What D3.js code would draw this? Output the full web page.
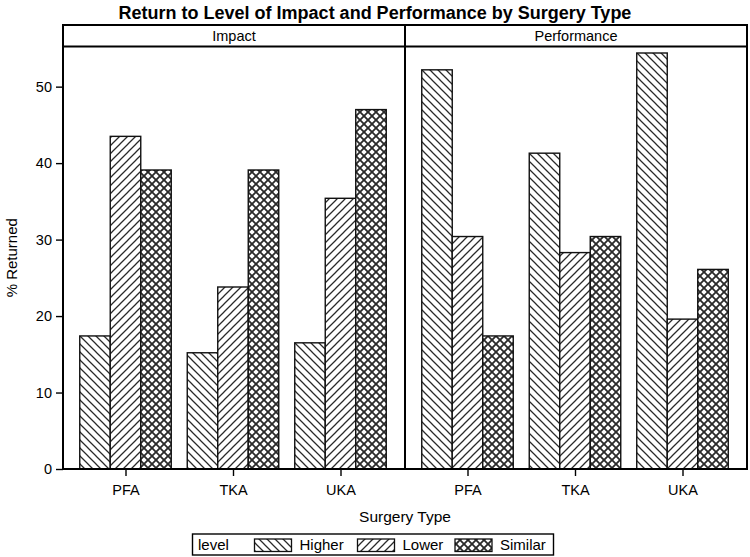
<!DOCTYPE html>
<html><head><meta charset="utf-8">
<script src="https://cdn.jsdelivr.net/npm/d3@7"></script>
<style>
html,body{margin:0;padding:0;background:#fff;}
svg text{font-family:"Liberation Sans",Arial,sans-serif;fill:#000;}
</style></head>
<body><svg id="chart" width="750" height="557"></svg>
<script>
const panels = ["Impact", "Performance"];
const categories = ["PFA", "TKA", "UKA"];
const levels = ["Higher", "Lower", "Similar"];
const impactHigher = [17.4, 15.2, 16.5];
const impactLower = [43.5, 23.8, 35.4];
const impactSimilar = [39.1, 39.1, 47.0];
const perfHigher = [52.2, 41.3, 54.4];
const perfLower = [30.4, 28.3, 19.6];
const perfSimilar = [17.4, 30.4, 26.1];
const yTicks = [0, 10, 20, 30, 40, 50];
const title = "Return to Level of Impact and Performance by Surgery Type";

const series = {
  Impact: {Higher: impactHigher, Lower: impactLower, Similar: impactSimilar},
  Performance: {Higher: perfHigher, Lower: perfLower, Similar: perfSimilar}
};

const svg = d3.select("#chart");
const L = 63, R = 747, headTop = 25, plotTop = 46.5, plotBottom = 469;
const panelW = (R - L) / 2;
const FS = 14.5;

// patterns
const defs = svg.append("defs");
const ink = "#2a2a2a";
function diag(id, dir, sw) {
  const p = defs.append("pattern").attr("id", id).attr("patternUnits", "userSpaceOnUse")
    .attr("width", 8).attr("height", 8);
  p.append("rect").attr("width", 8).attr("height", 8).attr("fill", "#fff");
  const d1 = "M0,0L8,8M-2,6L2,10M6,-2L10,2";
  const d2 = "M0,8L8,0M-2,2L2,-2M6,10L10,6";
  if (dir === "back" || dir === "cross") p.append("path").attr("d", d1).attr("stroke", ink).attr("stroke-width", sw).attr("fill", "none");
  if (dir === "fwd" || dir === "cross") p.append("path").attr("d", d2).attr("stroke", ink).attr("stroke-width", sw).attr("fill", "none");
}
diag("pHigher", "back", 1.25);
diag("pLower", "fwd", 1.25);
diag("pSimilar", "cross", 1.8);
const fillFor = {Higher: "url(#pHigher)", Lower: "url(#pLower)", Similar: "url(#pSimilar)"};

const y = d3.scaleLinear().domain([0, 55.25]).range([plotBottom, plotTop]);

// title
svg.append("text").attr("x", 375).attr("y", 18.5).attr("text-anchor", "middle")
  .attr("font-weight", "bold").attr("font-size", 18).text(title);

panels.forEach((pn, i) => {
  const x0 = L + i * panelW, x1 = x0 + panelW;
  const xc = d3.scalePoint().domain(categories).range([x0 + 62.5, x1 - 64.5]);
  const xs = d3.scaleBand().domain(levels).range([-45.75, 45.75]);
  const g = svg.append("g");
  levels.forEach(lv => {
    g.selectAll(null).data(categories.map((c, k) => ({c, v: series[pn][lv][k]}))).enter()
      .append("rect")
      .attr("x", d => xc(d.c) + xs(lv))
      .attr("width", xs.bandwidth())
      .attr("y", d => y(d.v))
      .attr("height", d => y(0) - y(d.v))
      .attr("fill", fillFor[lv]).attr("stroke", "#111").attr("stroke-width", 1.4);
  });
  // header
  svg.append("text").attr("x", (x0 + x1) / 2).attr("y", 41).attr("text-anchor", "middle")
    .attr("font-size", FS).text(pn);
  // x axis
  const ax = svg.append("g").attr("transform", `translate(0,${plotBottom})`)
    .call(d3.axisBottom(xc).tickSize(7).tickSizeOuter(0));
  ax.select(".domain").remove();
  ax.selectAll(".tick line").attr("stroke", "#000").attr("stroke-width", 1.4);
  ax.selectAll(".tick text").attr("y", 26).attr("dy", null)
    .attr("font-size", FS).attr("font-family", "Liberation Sans, Arial, sans-serif").attr("fill", "#000");
});

// frame lines
const frame = svg.append("g").attr("fill", "none").attr("stroke", "#000").attr("stroke-width", 2);
frame.append("rect").attr("x", L).attr("y", headTop).attr("width", R - L).attr("height", plotBottom - headTop);
frame.append("line").attr("x1", L).attr("x2", R).attr("y1", plotTop).attr("y2", plotTop);
frame.append("line").attr("x1", L + panelW).attr("x2", L + panelW).attr("y1", headTop).attr("y2", plotBottom);

// y axis
const ay = svg.append("g").attr("transform", `translate(${L},0)`)
  .call(d3.axisLeft(y).tickValues(yTicks).tickSize(7).tickPadding(4).tickSizeOuter(0));
ay.select(".domain").remove();
ay.selectAll(".tick line").attr("stroke", "#000").attr("stroke-width", 1.4);
ay.selectAll(".tick text").attr("font-size", FS).attr("font-family", "Liberation Sans, Arial, sans-serif").attr("fill", "#000");

svg.append("text").attr("transform", `translate(17,${(plotTop + plotBottom) / 2}) rotate(-90)`)
  .attr("text-anchor", "middle").attr("font-size", 15).text("% Returned");
svg.append("text").attr("x", 405).attr("y", 522).attr("text-anchor", "middle")
  .attr("font-size", 15.5).text("Surgery Type");

// legend
const lg = svg.append("g");
lg.append("rect").attr("x", 192.5).attr("y", 534).attr("width", 361).attr("height", 21)
  .attr("fill", "#fff").attr("stroke", "#000").attr("stroke-width", 1.4);
lg.append("text").attr("x", 198).attr("y", 550).attr("font-size", 15).text("level");
const legX = {Higher: 254.5, Lower: 357.5, Similar: 455};
levels.forEach(lv => {
  lg.append("rect").attr("x", legX[lv]).attr("y", 539).attr("width", 37).attr("height", 12.5)
    .attr("fill", fillFor[lv]).attr("stroke", "#111").attr("stroke-width", 1.3);
  lg.append("text").attr("x", legX[lv] + 45).attr("y", 550).attr("font-size", 15).text(lv);
});
</script></body></html>
